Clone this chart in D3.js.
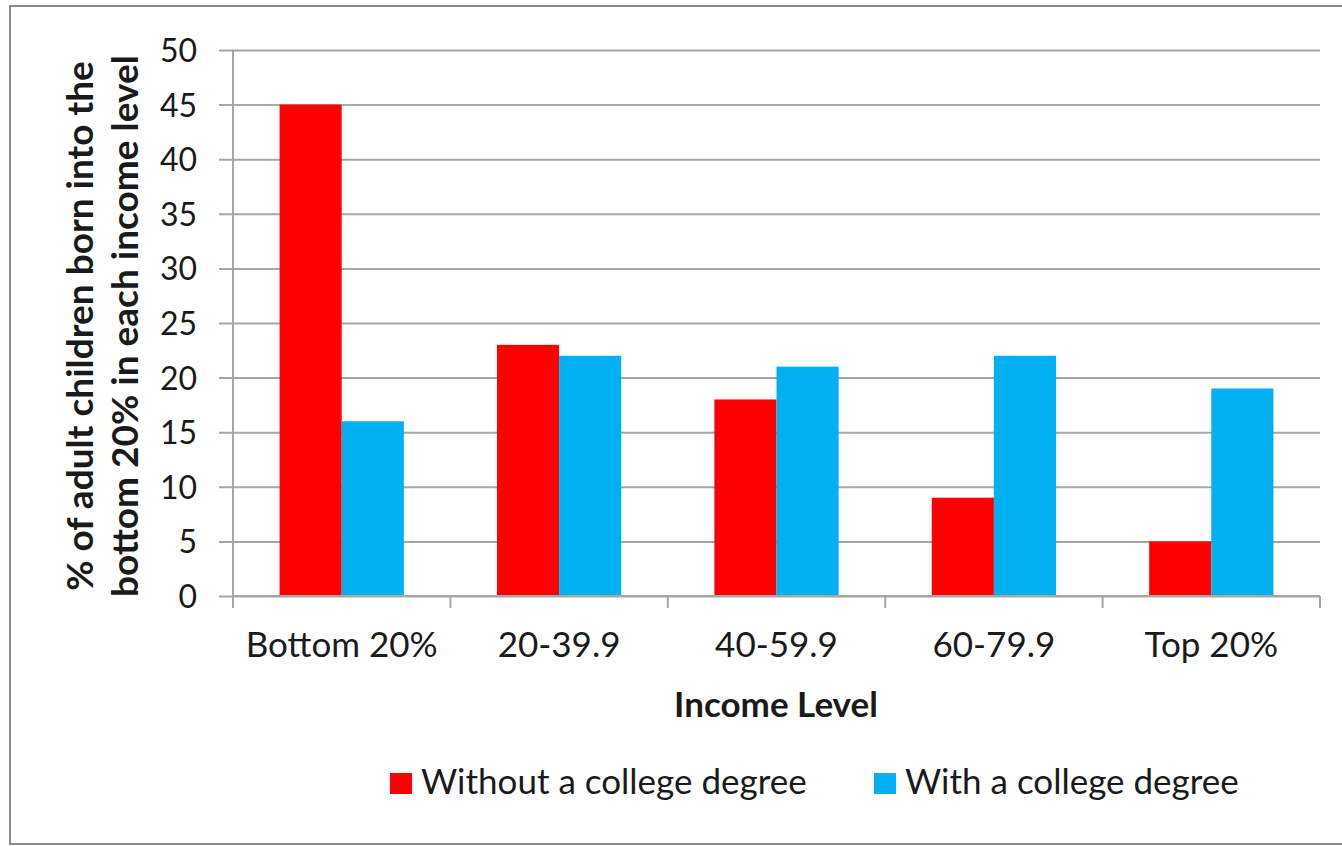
<!DOCTYPE html>
<html>
<head>
<meta charset="utf-8">
<script src="https://cdn.jsdelivr.net/npm/d3@7"></script>
<style>
  html, body { margin: 0; padding: 0; background: #fff; }
  svg { display: block; }
  text { font-family: Lato, "Open Sans", sans-serif; fill: #1a1a1a; }
</style>
</head>
<body>
<svg id="chart" width="1342" height="846"></svg>
<script>
// Income levels of adult children born into the bottom 20%
const categories = ["Bottom 20%", "20-39.9", "40-59.9", "60-79.9", "Top 20%"];
const seriesNames = ["Without a college degree", "With a college degree"];
const withoutDegree = [45, 23, 18, 9, 5];
const withDegree = [16, 22, 21, 22, 19];
const yTicks = [0, 5, 10, 15, 20, 25, 30, 35, 40, 45, 50];
const colors = ["#FF0000", "#00B0F0"];

const svg = d3.select("#chart");
const plot = { left: 233, right: 1320, top: 50, bottom: 596 };

// outer frame
svg.append("rect")
  .attr("x", 10).attr("y", 6)
  .attr("width", 1400).attr("height", 838)
  .attr("fill", "none").attr("stroke", "#8c8c8c").attr("stroke-width", 2);

const x = d3.scaleBand().domain(categories).range([plot.left, plot.right]).paddingInner(0).paddingOuter(0);
// two bars per group with a 150% gap between groups
const inner = d3.scaleBand().domain(seriesNames).range([0, x.bandwidth()]).paddingInner(0).paddingOuter(0.75);
const y = d3.scaleLinear().domain([0, 50]).range([plot.bottom, plot.top]);

// horizontal gridlines with left tick marks
const yAxis = d3.axisLeft(y).tickValues(yTicks).tickSize(-(plot.right - plot.left)).tickSizeOuter(0).tickPadding(36);
const gy = svg.append("g").attr("transform", `translate(${plot.left},0)`).call(yAxis);
gy.select(".domain").remove();
gy.selectAll(".tick line").attr("stroke", "#a6a6a6").attr("stroke-width", 2).attr("x1", -14);
gy.selectAll(".tick text").attr("font-size", 32).attr("fill", "#1a1a1a").attr("dy", "0.36em").style("font-family", "Lato, sans-serif");

// vertical axis line
svg.append("line")
  .attr("x1", plot.left).attr("x2", plot.left).attr("y1", plot.top).attr("y2", plot.bottom + 12)
  .attr("stroke", "#a6a6a6").attr("stroke-width", 2);

// bars
const rows = categories.map((c, i) => ({ cat: c, vals: [withoutDegree[i], withDegree[i]] }));
const groups = svg.append("g").selectAll("g").data(rows).join("g")
  .attr("transform", d => `translate(${x(d.cat)},0)`);
groups.selectAll("rect").data(d => d.vals.map((v, j) => ({ v, s: seriesNames[j], j }))).join("rect")
  .attr("x", d => inner(d.s))
  .attr("width", inner.bandwidth())
  .attr("y", d => y(d.v))
  .attr("height", d => y(0) - y(d.v))
  .attr("fill", d => colors[d.j]);

// category axis
const edges = categories.map(c => x(c)).concat([plot.right]);
const xAxisG = svg.append("g");
xAxisG.append("line")
  .attr("x1", plot.left).attr("x2", plot.right).attr("y1", plot.bottom).attr("y2", plot.bottom)
  .attr("stroke", "#a6a6a6").attr("stroke-width", 2);
xAxisG.selectAll("line.tk").data(edges).join("line").attr("class", "tk")
  .attr("x1", d => d).attr("x2", d => d).attr("y1", plot.bottom).attr("y2", plot.bottom + 12)
  .attr("stroke", "#a6a6a6").attr("stroke-width", 2);
xAxisG.selectAll("text").data(categories).join("text")
  .attr("x", d => x(d) + x.bandwidth() / 2).attr("y", 657)
  .attr("text-anchor", "middle").attr("font-size", 35).text(d => d);

// axis titles
svg.append("text").attr("x", 776).attr("y", 717).attr("text-anchor", "middle")
  .attr("font-size", 35).attr("font-weight", "bold").text("Income Level");

const yTitle = svg.append("text").attr("transform", "translate(93,326) rotate(-90)")
  .attr("text-anchor", "middle").attr("font-size", 37).attr("font-weight", "bold");
yTitle.append("tspan").attr("x", 0).attr("y", 0).text("% of adult children born into the");
yTitle.append("tspan").attr("x", 0).attr("y", 45).text("bottom 20% in each income level");

// legend
const legendX = [390, 874];
const lg = svg.append("g").selectAll("g").data(seriesNames).join("g")
  .attr("transform", (d, i) => `translate(${legendX[i]},773)`);
lg.append("rect").attr("width", 22).attr("height", 21).attr("fill", (d, i) => colors[i]);
lg.append("text").attr("x", 31).attr("y", 21).attr("font-size", 35).text(d => d);
</script>
</body>
</html>
